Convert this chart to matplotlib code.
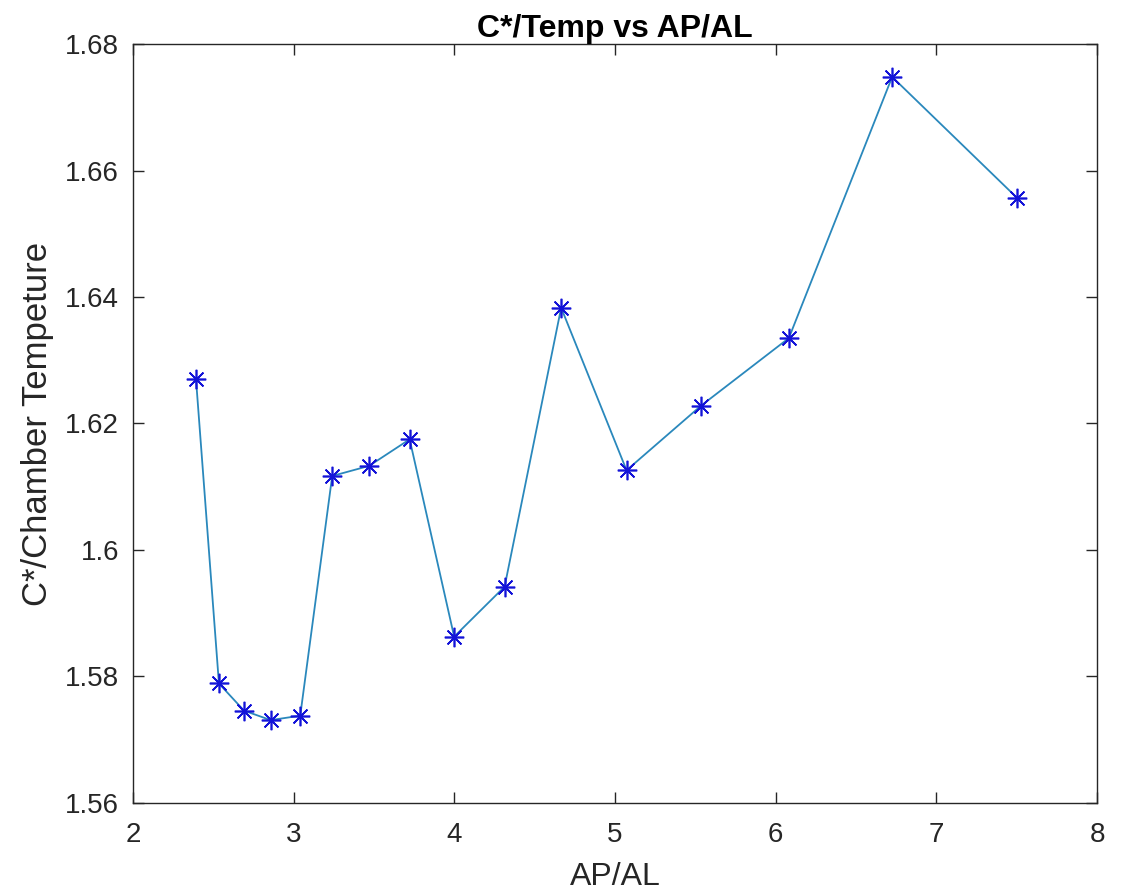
import matplotlib
matplotlib.use("Agg")
import matplotlib.pyplot as plt

plt.rcParams['font.family'] = ['Liberation Sans', 'DejaVu Sans']

ap_al = [2.392, 2.535, 2.691, 2.857, 3.041, 3.240, 3.470, 3.722,
         3.999, 4.313, 4.665, 5.072, 5.535, 6.082, 6.725, 7.501]
cstar_temp = [1.6271, 1.5789, 1.5746, 1.5731, 1.5738, 1.6117, 1.6133, 1.6175,
              1.5863, 1.5942, 1.6383, 1.6126, 1.6228, 1.6335, 1.6748, 1.6557]

xticks = [2, 3, 4, 5, 6, 7, 8]
yticks = [1.56, 1.58, 1.60, 1.62, 1.64, 1.66, 1.68]
yticklabels = ['1.56', '1.58', '1.6', '1.62', '1.64', '1.66', '1.68']

fig = plt.figure(figsize=(11.24, 8.91), dpi=100)
ax = fig.add_axes([0.1183, 0.0988, 0.976 - 0.1183, 0.9506 - 0.0988])

ax.plot(ap_al, cstar_temp, color='#2a88bc', linewidth=1.3, zorder=2)
ax.plot(ap_al, cstar_temp, linestyle='none', marker=(8, 2, 0), markersize=14,
        markeredgewidth=1.2, color='#1414d8', zorder=3)

ax.set_xlim(2, 8)
ax.set_ylim(1.56, 1.68)
ax.set_xticks(xticks)
ax.set_yticks(yticks)
ax.set_yticklabels(yticklabels)
ax.tick_params(direction='in', length=8, width=1, colors='#262626',
               labelsize=20, top=True, right=True)
ax.tick_params(axis='x', pad=14)
ax.tick_params(axis='y', pad=10)
for s in ax.spines.values():
    s.set_color('#262626')
    s.set_linewidth(1)

ax.set_xlabel('AP/AL', fontsize=23, color='#262626', labelpad=10)
ax.set_ylabel('C*/Chamber Tempeture', fontsize=25, color='#262626', labelpad=8)
ax.set_title('C*/Temp vs AP/AL', fontsize=23, fontweight='bold', pad=5)

fig.savefig('out.png', dpi=100)
